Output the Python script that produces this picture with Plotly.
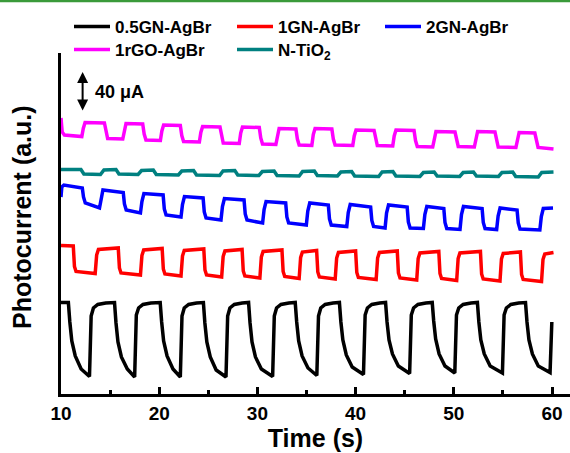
import plotly.graph_objects as go

# ---------------- data (time in s, photocurrent in uA, offset per sample) ----------------
BLACK_T = [10.00,
 10.75, 10.90, 11.10, 11.45, 12.05, 12.90, 13.07, 13.30, 13.75, 14.55,
 15.45, 15.60, 15.80, 16.15, 16.75, 17.50, 17.67, 17.90, 18.35, 19.15,
 20.10, 20.25, 20.45, 20.80, 21.40, 22.15, 22.32, 22.55, 23.00, 23.80,
 24.50, 24.65, 24.85, 25.20, 25.80, 26.80, 26.97, 27.20, 27.65, 28.45,
 29.10, 29.25, 29.45, 29.80, 30.40, 31.55, 31.72, 31.95, 32.40, 33.20,
 33.85, 34.00, 34.20, 34.55, 35.15, 36.05, 36.22, 36.45, 36.90, 37.70,
 38.35, 38.50, 38.70, 39.05, 39.65, 40.80, 40.97, 41.20, 41.65, 42.45,
 43.05, 43.20, 43.40, 43.75, 44.35, 45.50, 45.67, 45.90, 46.35, 47.15,
 47.80, 47.95, 48.15, 48.50, 49.10, 50.10, 50.27, 50.50, 50.95, 51.75,
 52.40, 52.55, 52.75, 53.10, 53.70, 54.95, 55.12, 55.35, 55.80, 56.60,
 57.30, 57.45, 57.65, 58.00, 58.60, 59.80, 59.98]
BLACK_Y = [91.5,
 91.5, 72, 53, 38, 25, 17.5, 78, 86, 89.5, 91,
 91.5, 71, 52, 37, 25, 17, 79, 86, 89.5, 91,
 91.5, 72, 53, 38, 25, 17, 78, 86, 89.5, 91,
 91.5, 71, 52, 37, 24, 17, 78, 86, 89.5, 91,
 91.5, 71, 52, 37, 25, 17.5, 78, 86, 89.5, 91,
 91.5, 72, 53, 38, 26, 18.5, 78, 86, 89.5, 91,
 91.5, 72, 54, 39, 27, 19.5, 79, 86, 89.5, 91,
 91.5, 72, 54, 40, 28, 20.5, 79, 86, 89.5, 91,
 91.5, 73, 55, 40, 28, 21, 79, 86, 89.5, 91,
 91.5, 72, 54, 40, 28, 21, 79, 86, 89.5, 91,
 91.5, 72, 54, 40, 28, 21.5, 72]

RED_T = [10.00,
 11.25, 11.37, 11.53, 13.48, 13.63, 13.81,
 15.83, 15.95, 16.11, 18.09, 18.24, 18.42,
 20.30, 20.42, 20.58, 22.22, 22.37, 22.55,
 24.54, 24.66, 24.82, 26.36, 26.51, 26.69,
 28.44, 28.56, 28.72, 30.25, 30.40, 30.58,
 32.50, 32.62, 32.78, 34.25, 34.40, 34.58,
 36.03, 36.15, 36.31, 37.92, 38.07, 38.25,
 40.00, 40.12, 40.28, 42.09, 42.24, 42.42,
 44.24, 44.36, 44.52, 46.22, 46.37, 46.55,
 48.47, 48.59, 48.75, 50.29, 50.44, 50.62,
 52.71, 52.83, 52.99, 54.70, 54.85, 55.03,
 56.78, 56.90, 57.06, 58.93, 59.08, 59.26,
 60.15]
RED_Y = [148.5,
 148, 127.5, 122.5, 120.5, 139, 144.5,
 146, 126, 121, 119, 138.5, 144,
 145.5, 125, 120, 118, 138, 143.5,
 145, 124, 119, 117, 137.5, 143,
 144.5, 123, 118, 116, 137, 142.5,
 144, 122.5, 117.5, 115.5, 136.5, 142,
 143.5, 122, 117, 115, 136, 141.5,
 143, 121.5, 116.5, 114.5, 136, 141.5,
 143, 121, 116, 114, 135.5, 141,
 142.5, 120.5, 115.5, 113.5, 135.5, 141,
 142.5, 120, 115, 113, 135, 140.5,
 142, 119.5, 114.5, 112.5, 134.5, 140,
 141.5]

BLUE_T = [10.00, 10.08, 10.30,
 12.17, 12.29, 12.47, 13.92, 14.07, 14.27,
 16.34, 16.46, 16.64, 18.09, 18.24, 18.44,
 20.40, 20.52, 20.70, 22.22, 22.37, 22.57,
 24.47, 24.59, 24.77, 26.29, 26.44, 26.64,
 28.64, 28.76, 28.94, 30.53, 30.68, 30.88,
 32.88, 33.00, 33.18, 34.98, 35.13, 35.33,
 37.22, 37.34, 37.52, 39.10, 39.25, 39.45,
 41.53, 41.65, 41.83, 43.00, 43.15, 43.35,
 45.25, 45.37, 45.55, 46.90, 47.05, 47.25,
 48.98, 49.10, 49.28, 50.63, 50.78, 50.98,
 52.88, 53.00, 53.18, 54.36, 54.51, 54.71,
 56.44, 56.56, 56.74, 58.76, 58.91, 59.11,
 60.10]
BLUE_Y = [197, 207, 209,
 206, 197, 191, 186, 196, 204,
 201.5, 190, 184, 181, 192.5, 200.5,
 199, 185, 179, 177, 189.5, 197.5,
 196, 182, 176, 174, 187.5, 195.5,
 194, 180, 174, 171, 184.5, 192.5,
 191, 177, 171, 169, 183, 191,
 189, 175, 169, 167.5, 181.5, 189.5,
 187, 173.5, 167.5, 166, 181, 189,
 187, 172, 166, 165.5, 179.5, 187.5,
 185.5, 171.5, 165.5, 164.5, 179.5, 187.5,
 185.5, 171.5, 165.5, 164.5, 178, 186,
 184, 171, 165, 164, 177.5, 185.5,
 186]

MAGENTA_T = [10.00, 10.12, 10.35,
 12.12, 12.27, 12.45, 14.42, 14.57, 14.75,
 16.29, 16.44, 16.62, 18.32, 18.47, 18.65,
 20.12, 20.27, 20.45, 22.15, 22.30, 22.48,
 24.09, 24.24, 24.42, 26.19, 26.34, 26.52,
 28.15, 28.30, 28.48, 30.19, 30.34, 30.52,
 31.88, 32.03, 32.21, 33.92, 34.07, 34.25,
 35.54, 35.69, 35.87, 37.58, 37.73, 37.91,
 39.71, 39.86, 40.04, 41.88, 42.03, 42.21,
 43.78, 43.93, 44.11, 45.95, 46.10, 46.28,
 47.85, 48.00, 48.18, 50.12, 50.27, 50.45,
 52.09, 52.24, 52.42, 54.19, 54.34, 54.52,
 56.32, 56.47, 56.65, 58.25, 58.40, 58.58,
 60.15]
MAGENTA_Y = [276, 262, 259,
 257.5, 265.5, 271.5, 271, 261.5, 255.5,
 255, 264.5, 270.5, 270, 260, 254,
 253.5, 263, 269, 268.5, 258.5, 252.5,
 252, 261.5, 267.5, 267, 257, 251,
 250.5, 261, 267, 266.5, 256, 250,
 249.5, 259.5, 265.5, 265, 255, 249,
 248.5, 259.5, 265.5, 265, 255, 249,
 248.5, 258, 264, 263.5, 254.5, 248.5,
 248, 258, 264, 263.5, 253.5, 247.5,
 247, 256.5, 262.5, 262, 253.5, 247.5,
 247, 256.5, 262.5, 262, 253, 247,
 246.5, 255.5, 261.5, 261, 252.5, 246.5,
 245]

TEAL_T = [10.00,
 12.03, 12.33, 14.02, 14.37,
 15.60, 15.90, 17.85, 18.20,
 19.40, 19.70, 21.95, 22.30,
 23.50, 23.80, 26.15, 26.50,
 27.70, 28.00, 30.15, 30.50,
 31.70, 32.00, 34.25, 34.60,
 35.80, 36.10, 38.15, 38.50,
 39.60, 39.90, 42.35, 42.70,
 43.80, 44.10, 46.55, 46.90,
 48.00, 48.30, 50.60, 50.95,
 52.00, 52.30, 54.55, 54.90,
 56.00, 56.30, 58.60, 58.95,
 60.15]
TEAL_Y = [224.5,
 224.5, 220, 219.5, 224,
 224.5, 220, 219.5, 223.5,
 224, 219.5, 219, 223,
 223.5, 219, 218.5, 223,
 223.5, 219, 218.5, 222.5,
 223, 218.5, 218, 222.5,
 223, 218.5, 218, 222,
 222.5, 218, 217.5, 222,
 222.5, 218, 217.5, 221.5,
 222, 218, 217.5, 221.5,
 222, 218, 217.5, 221.5,
 222, 217.5, 217, 221.5,
 222]

NAMES = ["0.5GN-AgBr", "1GN-AgBr", "2GN-AgBr", "1rGO-AgBr", "N-TiO<sub>2</sub>"]
COLORS = ["#000000", "#ff0000", "#0000ff", "#ff00ff", "#008080"]
X_TICKS = [10, 20, 30, 40, 50, 60]
SCALE_BAR = 40          # uA
SCALE_BAR_BASE = 282
SCALE_BAR_T = 12.2

FONT = "Liberation Sans, Arial, sans-serif"

series = [(BLACK_T, BLACK_Y), (RED_T, RED_Y), (BLUE_T, BLUE_Y), (MAGENTA_T, MAGENTA_Y), (TEAL_T, TEAL_Y)]
legend_ids = ["legend", "legend2", "legend3", "legend4", "legend5"]

fig = go.Figure()
for (t, y), name, color, lg in zip(series, NAMES, COLORS, legend_ids):
    fig.add_trace(go.Scatter(x=t, y=y, mode="lines", name=name, legend=lg,
                             line=dict(color=color, width=3.5)))

W, H = 570, 453
ML, MR, MT, MB = 61, 0, 53, 59
PW, PH = W - ML - MR, H - MT - MB
legend_pos = [(69, 27), (232, 27), (380, 27), (69, 50), (232, 50)]
leg_font = dict(family=FONT, size=17, color="black", weight="bold")
legends = {}
for lg, (px, py) in zip(legend_ids, legend_pos):
    legends[lg] = dict(x=px / W, y=1 - py / H, xref="container", yref="container",
                       xanchor="left", yanchor="middle", font=leg_font,
                       bgcolor="rgba(0,0,0,0)", itemwidth=36)

fig.update_layout(
    width=W, height=H,
    margin=dict(l=ML, r=MR, t=MT, b=MB, autoexpand=False),
    paper_bgcolor="white", plot_bgcolor="white",
    showlegend=True,
    font=dict(family=FONT, color="black"),
    xaxis=dict(range=[10, 61.83], tickvals=X_TICKS, ticks="inside", ticklen=7, tickwidth=2.5,
               tickcolor="black", showline=True, linewidth=3, linecolor="black",
               showgrid=False, zeroline=False, automargin=False,
               minor=dict(dtick=5, tick0=10, ticks="inside", ticklen=4, tickwidth=2.5, tickcolor="black"),
               tickfont=dict(family=FONT, size=19, color="black", weight="bold"),
               title=dict(text="Time (s)", font=dict(family=FONT, size=25, color="black", weight="bold"),
                          standoff=6)),
    yaxis=dict(range=[0, 341], showticklabels=False, ticks="", showline=True, linewidth=3,
               linecolor="black", showgrid=False, zeroline=False, automargin=False),
    shapes=[dict(type="line", xref="paper", yref="paper", x0=-ML / PW, x1=1,
                 y0=1 + (MT - 1) / PH, y1=1 + (MT - 1) / PH,
                 line=dict(color="#3a9a3a", width=2.5))],
    annotations=[
        dict(x=(22 - ML) / PW, y=(H - MB - 217) / PH, xref="paper", yref="paper",
             text="Photocurrent (a.u.)", textangle=-90, showarrow=False,
             xanchor="center", yanchor="middle",
             font=dict(family=FONT, size=25, color="black", weight="bold")),
        dict(x=SCALE_BAR_T, y=SCALE_BAR_BASE + SCALE_BAR, ax=SCALE_BAR_T, ay=SCALE_BAR_BASE,
             xref="x", yref="y", axref="x", ayref="y", text="", showarrow=True,
             arrowhead=2, startarrowhead=2, arrowside="end+start", arrowsize=1.1,
             arrowwidth=2, arrowcolor="black", standoff=0, startstandoff=0),
        dict(x=13.25, y=SCALE_BAR_BASE + SCALE_BAR / 2, xref="x", yref="y",
             text=f"{SCALE_BAR} \u03bcA", showarrow=False, xanchor="left", yanchor="middle",
             font=dict(family=FONT, size=18, color="black", weight="bold")),
    ],
    **legends,
)

fig.write_html("out.html")
